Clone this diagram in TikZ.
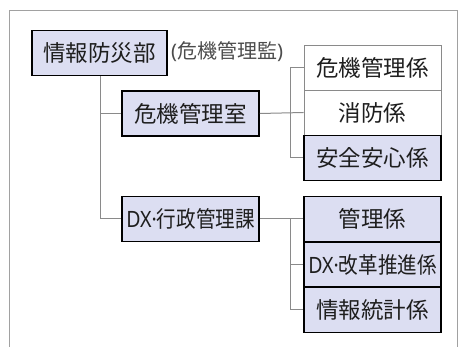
\documentclass[tikz,border=0pt]{standalone}
\usepackage{fontspec}
\setmainfont{Noto Sans CJK JP}
\newfontfamily\latinfont{Noto Sans}
\newcommand{\dxdot}{{\latinfont DX·}}
\newcommand{\squeeze}[1]{\scalebox{0.87}[1]{#1}}
\definecolor{boxfill}{HTML}{DCDEF2}
\definecolor{lineg}{HTML}{8A8A8A}
\definecolor{txt}{HTML}{1E1E1E}
\begin{document}
\begin{tikzpicture}[x=1pt,y=-1pt,
  bluebox/.style={draw=black,line width=1.6pt,fill=boxfill,minimum width=137pt,minimum height=45pt,inner sep=0pt,font=\fontsize{22.5}{22.5}\selectfont,text=txt},
  whitebox/.style={draw=lineg,line width=0.8pt,fill=white,minimum width=137pt,minimum height=45pt,inner sep=0pt,font=\fontsize{22.5}{22.5}\selectfont,text=txt},
  conn/.style={draw=lineg,line width=1pt}]
\useasboundingbox (0,0) rectangle (461,347);
\fill[white] (0,0) rectangle (461,347);
\draw[lineg!80,line width=1pt] (9.5,347) -- (9.5,11) -- (457,11) -- (457,347);
% nodes
\node[bluebox,minimum width=135pt] (dept) at (99.5,53) {情報防災部};
\node[anchor=west,font=\fontsize{20}{20}\selectfont,text=black!70,inner sep=0pt] (kanri) at (171,52) {{\latinfont(}危機管理監{\latinfont)}};
\node[bluebox] (kiki) at (190.5,113.5) {危機管理室};
\node[bluebox] (dx) at (190.5,219) {\squeeze{\dxdot 行政管理課}};
\node[whitebox] (r1) at (372.5,67.5) {危機管理係};
\node[whitebox] (r2) at (372.5,112.5) {消防係};
\node[bluebox] (r3) at (372.5,158) {安全安心係};
\node[bluebox] (r4) at (372.5,219) {管理係};
\node[bluebox] (r5) at (372.5,264.5) {\squeeze{\dxdot 改革推進係}};
\node[bluebox] (r6) at (372.5,310) {情報統計係};
\coordinate (tr) at (100,219);
\coordinate (b1) at (290,113.5);
\coordinate (b2) at (290,219);
% connectors
\draw[conn] (dept.south -| tr) -- (tr) -- (dx.west);
\draw[conn] (kiki.west -| tr) -- (kiki.west);
\draw[conn] (kiki.east) -- (r2.west);
\draw[conn] (r1.west) -- (r1.west -| b1) -- (r3.west -| b1) -- (r3.west);
\draw[conn] (dx.east) -- (r4.west);
\draw[conn] (b2) -- (r6.west -| b2) -- (r6.west);
\draw[conn] (r5.west -| b2) -- (r5.west);
% redraw box borders on top
\node[bluebox] at (r3) {安全安心係};
\node[bluebox] at (r4) {管理係};
\node[bluebox] at (r5) {\squeeze{\dxdot 改革推進係}};
\node[bluebox] at (r6) {情報統計係};
\end{tikzpicture}
\end{document}
